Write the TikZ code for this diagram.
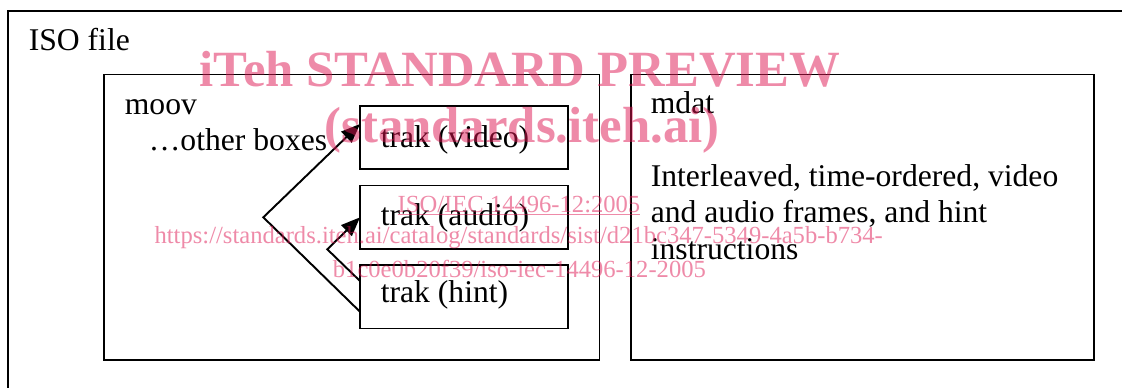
\documentclass[tikz,border=0pt]{standalone}
\usepackage{fontspec}
\setmainfont{Liberation Serif}
\usetikzlibrary{arrows.meta,calc}
\definecolor{wmpink}{RGB}{222,22,82}

\begin{document}
\begin{tikzpicture}[x=0.02cm,y=-0.02cm,
    box/.style={draw,line width=1pt,inner sep=0pt,outer sep=0pt},
    txt/.style={anchor=base west,inner sep=0pt,font=\fontsize{18}{20.7}\selectfont},
    wmbig/.style={anchor=base,inner sep=0pt,text=wmpink,text opacity=0.5,
      font=\fontsize{28.9}{30}\selectfont\bfseries},
    wmsmall/.style={anchor=base,inner sep=0pt,text=wmpink,text opacity=0.5,
      font=\fontsize{14}{16}\selectfont}]
    \useasboundingbox (0,0) rectangle (1122,387);
    %% Draw the boxes
    \node[box,anchor=north west,minimum width=22.6cm,minimum height=7.8cm] (iso) at (8,11) {};
    \node[box,minimum width=9.91cm,minimum height=5.71cm] (moov) at (351.75,217.15) {};
    \node[box,minimum width=9.26cm,minimum height=5.71cm] (mdat) at (862.5,217.15) {};
    \node[box,minimum width=4.16cm,minimum height=1.26cm] (video) at (464,137.5) {};
    \node[box,minimum width=4.16cm,minimum height=1.27cm] (audio) at (464,217.35) {};
    \node[box,minimum width=4.16cm,minimum height=1.27cm] (hint) at (464,296.75) {};
    %% Draw the texts
    \node[txt] (isolbl) at (28.5,50) {ISO file};
    \node[txt] (moovlbl) at (124.5,114) {moov};
    \node[txt] (other) at (148.5,150) {…other boxes};
    \node[txt] (videolbl) at (380.5,147) {trak (video)};
    \node[txt] (audiolbl) at (380.5,225) {trak (audio)};
    \node[txt] (hintlbl) at (380.5,302.7) {trak (hint)};
    \node[txt] (mdatlbl) at (650.5,113) {mdat};
    \node[txt,align=left] (mdattxt) at (650.5,259)
      {Interleaved, time-ordered, video\\and audio frames, and hint\\instructions};
    %% Draw the track references
    \coordinate (fork1) at (263.3,217.3);
    \coordinate (fork2) at (327.3,249.3);
    \begin{scope}[every path/.style={line width=1.1pt,-{Triangle[length=3.8mm,width=3mm]}}]
      \draw ($(hint.west)+(0,15)$) -- (fork1) -- ($(video.west)+(0,-13.5)$);
      \draw ($(hint.west)+(0,-15.75)$) -- (fork2) -- (audio.west);
    \end{scope}
    %% Draw the watermark
    \node[wmbig] (wm1) at (520,86) {iTeh STANDARD PREVIEW};
    \node[wmbig] (wm2) at (522,142.5) {(standards.iteh.ai)};
    \node[wmsmall] (wm3) at (519,212) {\underline{ISO/IEC 14496-12:2005}};
    \node[wmsmall] (wm4) at (518.7,243.5) {https://standards.iteh.ai/catalog/standards/sist/d21bc347-5349-4a5b-b734-};
    \node[wmsmall] (wm5) at (519.4,277) {b1c0e0b20f39/iso-iec-14496-12-2005};
\end{tikzpicture}
\end{document}
